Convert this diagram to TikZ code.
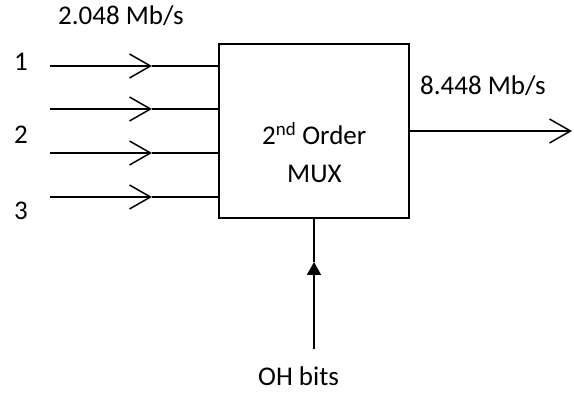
\documentclass[tikz,border=0pt]{standalone}
\usepackage{fontspec}
\setmainfont{Carlito}
\usetikzlibrary{arrows.meta}
\begin{document}
\begin{tikzpicture}[x=1pt,y=-1pt,
  txt/.style={font=\fontsize{27}{32}\selectfont, inner sep=0pt, anchor=base west},
  wire/.style={line width=1.6pt},
  inarrow/.style={wire, -{Straight Barb[length=21pt,width=24pt,line width=1.5pt]}},
  outarrow/.style={wire, -{Straight Barb[length=21pt,width=24pt,line width=1.5pt]}},
  oharrow/.style={wire, -{Triangle[length=13pt,width=14pt]}},
  muxbox/.style={draw, line width=1.4pt, minimum width=190pt, minimum height=174pt, inner sep=0pt}]
\useasboundingbox (0,0) rectangle (574,393);
\node[muxbox] (mux) at (314,131) {};
\node[txt] (muxtxt1) at (262,145) {2\textsuperscript{nd} Order};
\node[txt] (muxtxt2) at (287,183) {MUX};
% inputs
\coordinate (in1) at (50,66);  \coordinate (tip1) at (152,66);
\coordinate (in2) at (50,109); \coordinate (tip2) at (152,109);
\coordinate (in3) at (50,153); \coordinate (tip3) at (152,153);
\coordinate (in4) at (50,197); \coordinate (tip4) at (152,197);
\foreach \i in {1,2,3,4}{
  \draw[inarrow] (in\i) -- (tip\i);
  \draw[wire] (tip\i) -- (tip\i -| mux.west);
}
\node[txt] (l1) at (14,71) {1};
\node[txt] (l2) at (14,144) {2};
\node[txt] (l3) at (14,220) {3};
\node[txt] (rin) at (58,25) {2.048 Mb/s};
% output
\coordinate (out) at (572,131);
\draw[outarrow] (mux.east) -- (out);
\node[txt] (rout) at (420,95) {8.448 Mb/s};
% overhead bits
\coordinate (oh) at (314,349);
\coordinate (ohtip) at (314,262);
\draw[oharrow] (oh) -- (ohtip);
\draw[wire] (ohtip) -- (mux.south);
\node[txt] (ohl) at (258,385) {OH bits};
\end{tikzpicture}
\end{document}
